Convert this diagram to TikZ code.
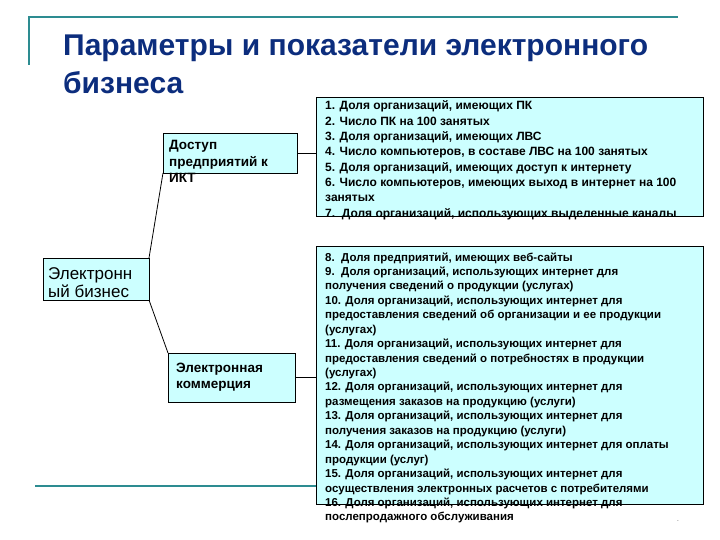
\documentclass[tikz,border=0pt]{standalone}
\usepackage{fontspec}
\setmainfont{Liberation Sans}
\begin{document}
\begin{tikzpicture}[x=1pt,y=-1pt,
  teal line/.style={draw=tealc,line width=2pt},
  cbox/.style={draw=black,fill=boxc,line width=0.8pt,inner sep=0pt,outer sep=0pt,rectangle},
  itemtxt/.style={anchor=base west,inner sep=0pt,font=\bfseries\fontsize{11.5}{13}\selectfont},
  itemtxtA/.style={anchor=base west,inner sep=0pt,font=\bfseries\fontsize{12}{13}\selectfont},
  boxtxt/.style={anchor=base west,inner sep=0pt,font=\bfseries\fontsize{13.5}{15}\selectfont},
  link/.style={draw=black,line width=0.8pt}]
\definecolor{tealc}{RGB}{45,140,145}
\definecolor{boxc}{RGB}{204,255,255}
\definecolor{titlec}{RGB}{12,45,125}
\useasboundingbox (0,0) rectangle (720,540);
% decorative lines
\coordinate (tl) at (29,17);
\coordinate (tr) at (678,17);
\coordinate (vl) at (29,65);
\coordinate (bl) at (35,486);
\coordinate (br) at (316,486);
\draw[teal line] (vl) -- (tl) -- (tr);
\draw[teal line] (bl) -- (br);
% title
\node[anchor=base west,inner sep=0pt,text=titlec,font=\bfseries\fontsize{30}{33}\selectfont] (t1) at (63,56) {Параметры и показатели электронного};
\node[anchor=base west,inner sep=0pt,text=titlec,font=\bfseries\fontsize{30}{33}\selectfont] (t2) at (63,94) {бизнеса};
% boxes
\node[cbox,minimum width=106pt,minimum height=42pt] (lb) at (96,279) {};
\node[cbox,minimum width=134pt,minimum height=40pt] (b1) at (230,153) {};
\node[cbox,minimum width=127pt,minimum height=49pt] (b2) at (231.5,377.5) {};
\node[cbox,minimum width=387pt,minimum height=119pt] (r1) at (509.5,156.5) {};
\node[cbox,minimum width=387pt,minimum height=258pt] (r2) at (509.5,375) {};
% connectors
\draw[link] (lb.north east) -- (b1.south west);
\draw[link] (lb.south east) -- (b2.north west);
\draw[link] (b1.east) -- (b1.east -| r1.west);
\draw[link] (b2.east) -- (b2.east -| r2.west);
% left box text
\node[anchor=base west,inner sep=0pt,font=\fontsize{17}{19}\selectfont] (lb1) at (48,279) {Электронн};
\node[anchor=base west,inner sep=0pt,font=\fontsize{17}{19}\selectfont] (lb2) at (48,297) {ый бизнес};
% box 1 text
\node[boxtxt] (b1a) at (169,150) {Доступ};
\node[boxtxt] (b1b) at (169,166.5) {предприятий к};
\node[boxtxt] (b1c) at (169,183) {ИКТ};
% box 2 text
\node[boxtxt] (b2a) at (176,372) {Электронная};
\node[boxtxt] (b2b) at (176,388) {коммерция};
% right box 1 items
\foreach \t [count=\i from 0] in {
 {1. Доля организаций, имеющих ПК},
 {2. Число ПК на 100 занятых},
 {3. Доля организаций, имеющих ЛВС},
 {4. Число компьютеров, в составе ЛВС на 100 занятых},
 {5. Доля организаций, имеющих доступ к интернету},
 {6. Число компьютеров, имеющих выход в интернет на 100},
 {занятых},
 {7.\ \ Доля организаций, использующих выделенные каналы}}
 \node[itemtxtA] (ra\i) at (325,110+15.3*\i) {\t};
% right box 2 items
\foreach \t [count=\i from 0] in {
 {8.\ \ Доля предприятий, имеющих веб-сайты},
 {9.\ \ Доля организаций, использующих интернет для},
 {получения сведений о продукции (услугах)},
 {10. Доля организаций, использующих интернет для},
 {предоставления сведений об организации и ее продукции},
 {(услугах)},
 {11. Доля организаций, использующих интернет для},
 {предоставления сведений о потребностях в продукции},
 {(услугах)},
 {12. Доля организаций, использующих интернет для},
 {размещения заказов на продукцию (услуги)},
 {13. Доля организаций, использующих интернет для},
 {получения заказов на продукцию (услуги)},
 {14. Доля организаций, использующих интернет для оплаты},
 {продукции (услуг)},
 {15. Доля организаций, использующих интернет для},
 {осуществления электронных расчетов с потребителями},
 {16. Доля организаций, использующих интернет для},
 {послепродажного обслуживания}}
 \node[itemtxt] (rb\i) at (325,261+14.44*\i) {\t};
\node[anchor=base,inner sep=0pt,text=gray,font=\fontsize{8}{9}\selectfont] (dot) at (678,521) {.};
\end{tikzpicture}
\end{document}
